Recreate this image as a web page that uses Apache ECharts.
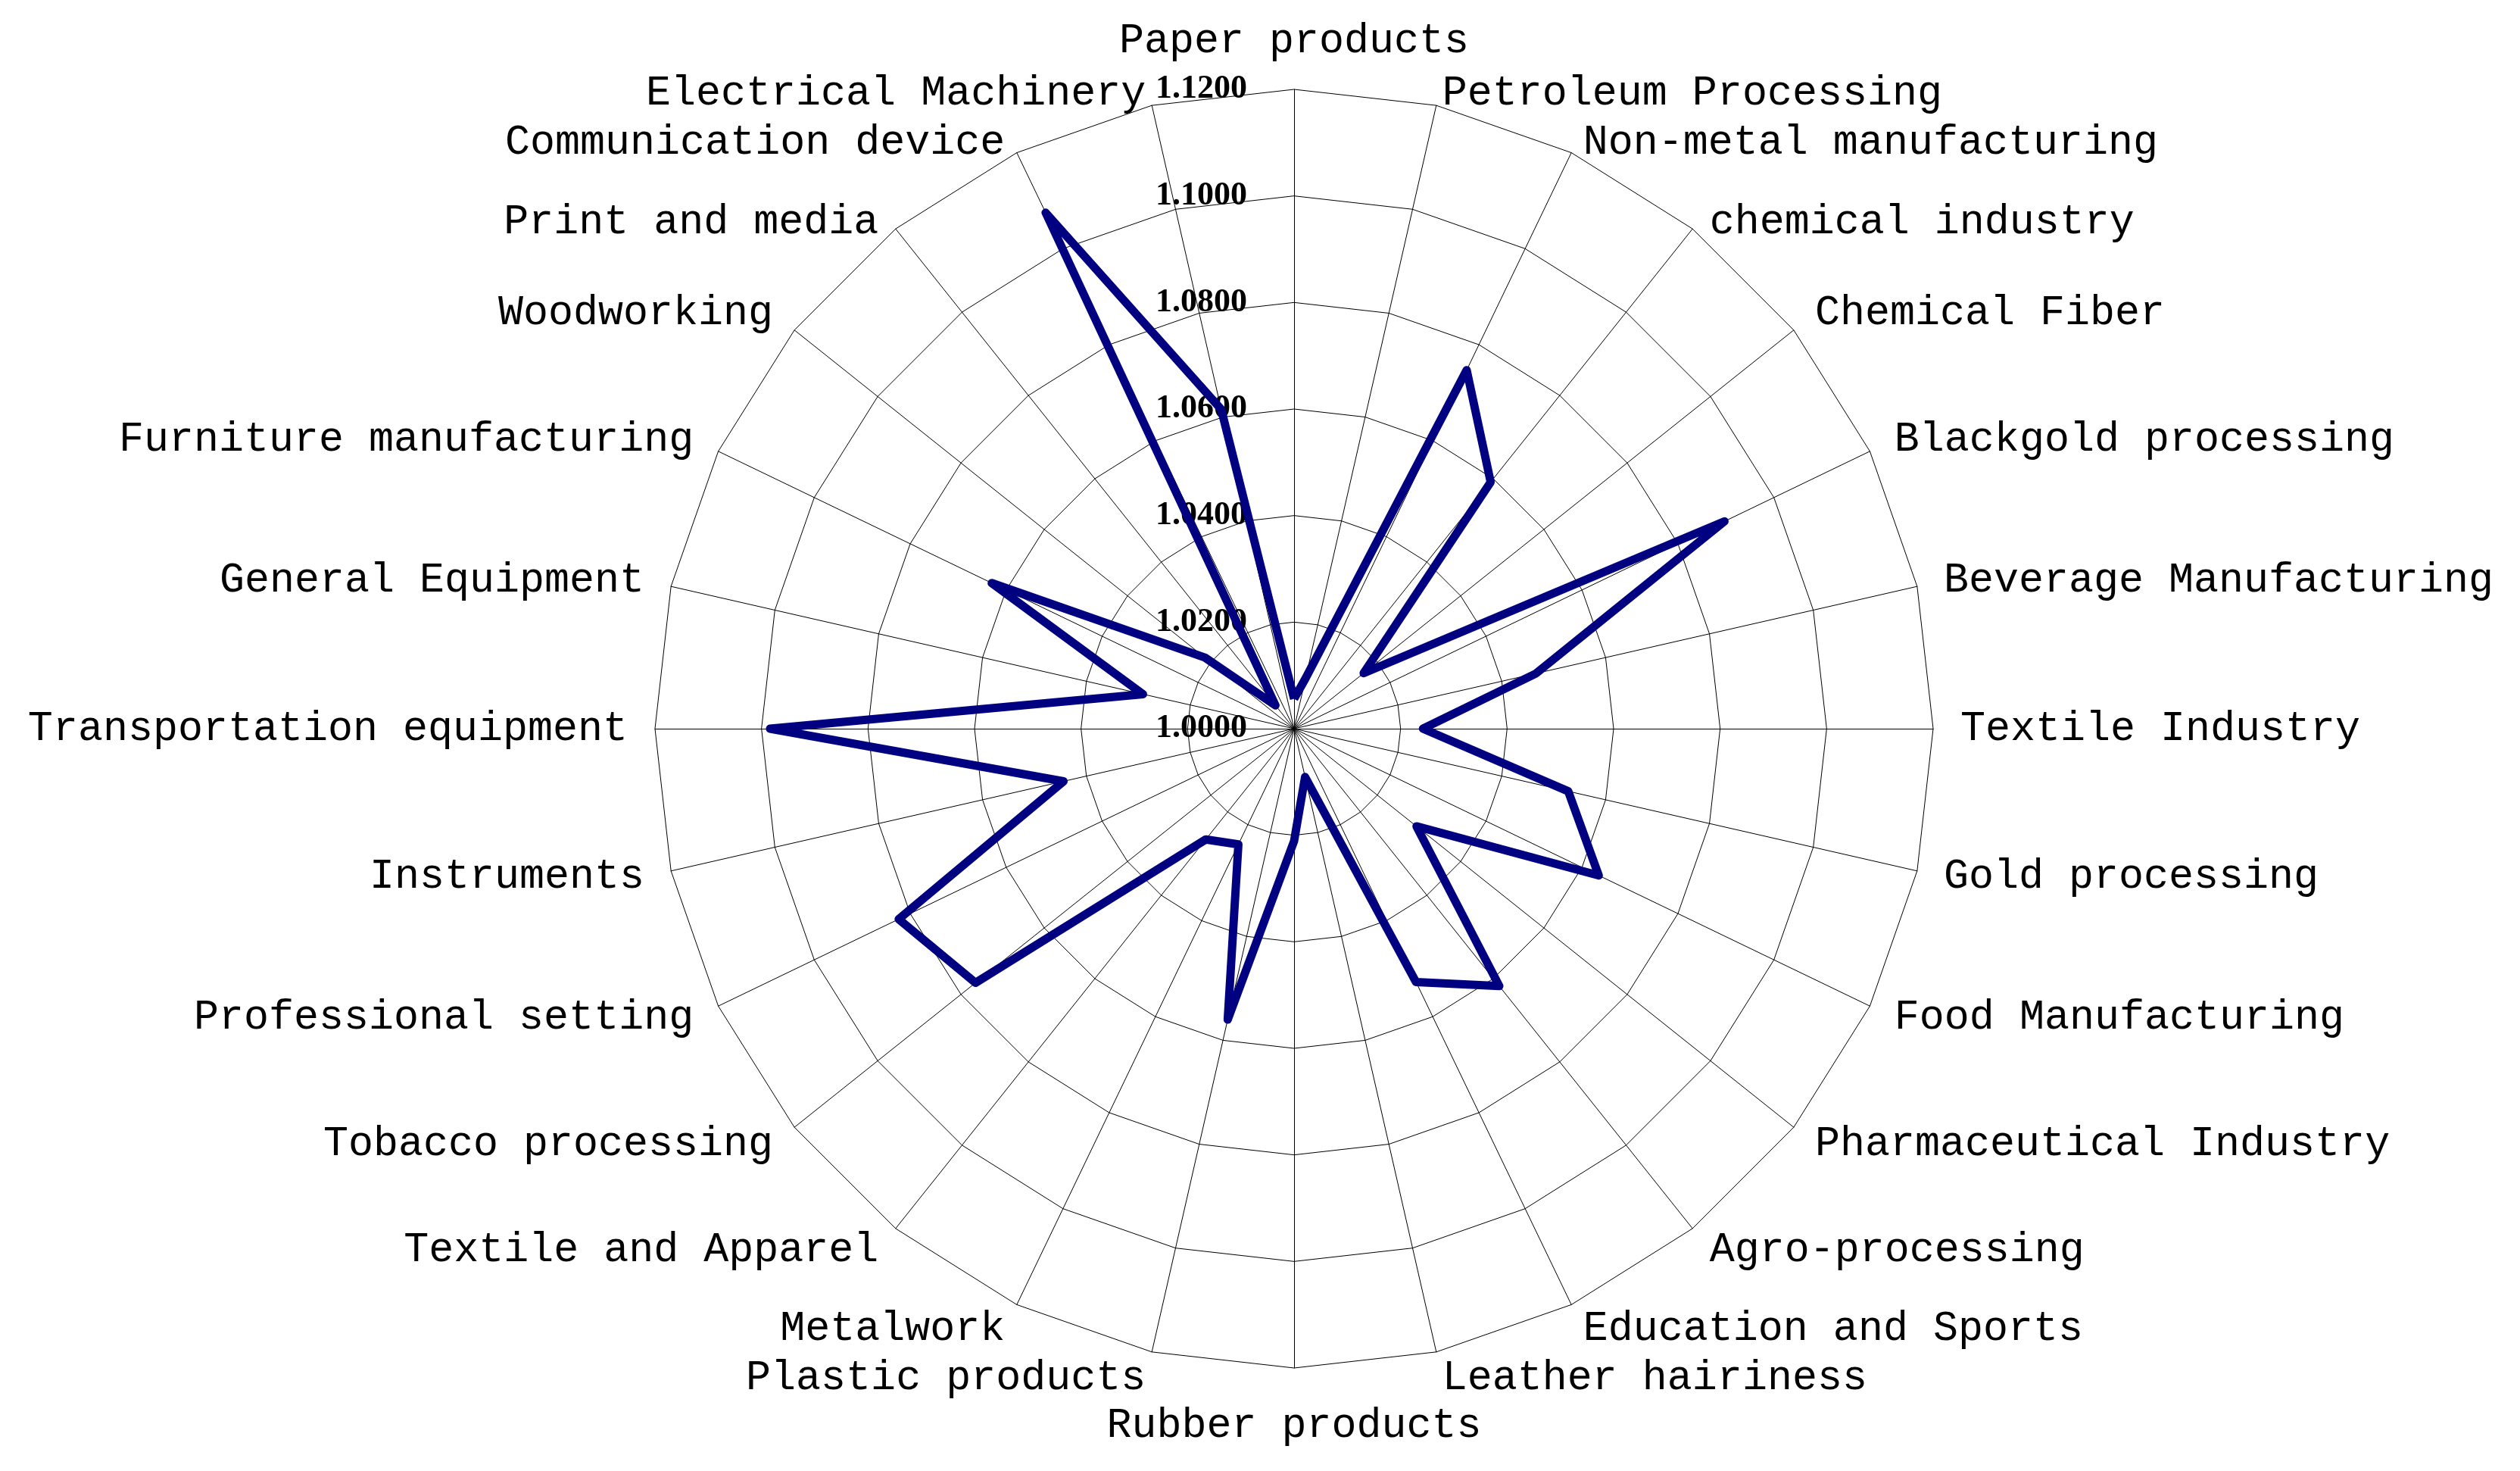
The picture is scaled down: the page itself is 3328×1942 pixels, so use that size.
<!DOCTYPE html>
<html>
<head>
<meta charset="utf-8">
<script src="https://cdn.jsdelivr.net/npm/echarts@6/dist/echarts.min.js"></script>
<style>
  html, body { margin: 0; padding: 0; background: #fff; }
  #main { width: 3328px; height: 1942px; }
</style>
</head>
<body>
<div id="main"></div>
<script>
// categories, clockwise from the top
const categories = [
  'Paper products', 'Petroleum Processing', 'Non-metal manufacturing', 'chemical industry',
  'Chemical Fiber', 'Blackgold processing', 'Beverage Manufacturing', 'Textile Industry',
  'Gold processing', 'Food Manufacturing', 'Pharmaceutical Industry', 'Agro-processing',
  'Education and Sports', 'Leather hairiness', 'Rubber products', 'Plastic products',
  'Metalwork', 'Textile and Apparel', 'Tobacco processing', 'Professional setting',
  'Instruments', 'Transportation equipment', 'General Equipment', 'Furniture manufacturing',
  'Woodworking', 'Print and media', 'Communication device', 'Electrical Machinery'
]

// values
const values = [
  1.0056, 1.0097, 1.0747, 1.0592,
  1.0167, 1.0897, 1.0466, 1.0242,
  1.0528, 1.0635, 1.0294, 1.0618,
  1.0528, 1.0093, 1.0211, 1.0560,
  1.0241, 1.0266, 1.0765, 1.0824,
  1.0444, 1.0984, 1.0291, 1.0630,
  1.0214, 1.0056, 1.1075, 1.0615
]

const axisMin = 1.0
const axisMax = 1.12
const axisStep = 0.02

const center = [1709, 962]
const radius = 844

// echarts radar runs counter-clockwise, so feed it in reverse (first one stays on top)
const n = categories.length
const order = categories.map((c, i) => (n - i) % n)
const radarNames = order.map(i => categories[i])
const radarValues = order.map(i => values[i])

// excel puts the names near the top a bit lower than echarts does
function nameStyle (name) {
  const deg = categories.indexOf(name) * 360 / n
  if (deg > 0 && (deg < 45 || deg > 315)) return 'dn'
  if (deg === 180) return 'bt'
  return 'n'
}

const chart = echarts.init(document.getElementById('main'))
chart.setOption({
  backgroundColor: '#fff',
  animation: false,
  radar: {
    center: center,
    radius: radius,
    startAngle: 90,
    splitNumber: Math.round((axisMax - axisMin) / axisStep),
    shape: 'polygon',
    nameGap: 36,
    indicator: radarNames.map(name => ({ name: name, min: axisMin, max: axisMax })),
    axisName: {
      color: '#000',
      fontFamily: 'Liberation Mono',
      fontSize: 55,
      formatter: name => '{' + nameStyle(name) + '|' + name + '}',
      rich: {
        n: { fontFamily: 'Liberation Mono', fontSize: 55, color: '#000' },
        dn: { fontFamily: 'Liberation Mono', fontSize: 55, color: '#000', padding: [38, 0, 0, 0] },
        bt: { fontFamily: 'Liberation Mono', fontSize: 55, color: '#000', padding: [13, 0, 0, 0] }
      }
    },
    axisLine: { lineStyle: { color: '#000', width: 1 } },
    splitLine: { lineStyle: { color: '#000', width: 1 } },
    splitArea: { show: false },
    axisTick: { show: false },
    axisLabel: { show: false }
  },
  // polar overlay only for the radial tick labels
  polar: { center: center, radius: radius },
  angleAxis: { type: 'value', startAngle: 90, show: false },
  radiusAxis: {
    type: 'value',
    min: axisMin,
    max: axisMax,
    interval: axisStep,
    z: 1,
    axisLine: { show: false },
    axisTick: { show: false },
    splitLine: { show: false },
    axisLabel: {
      margin: 62,
      color: '#000',
      fontFamily: 'Liberation Serif',
      fontWeight: 'bold',
      fontSize: 44,
      formatter: v => v.toFixed(4)
    }
  },
  series: [{
    type: 'radar',
    z: 5,
    symbol: 'none',
    lineStyle: { color: '#000080', width: 11 },
    data: [{ value: radarValues, name: 'index' }]
  }]
})
</script>
</body>
</html>
